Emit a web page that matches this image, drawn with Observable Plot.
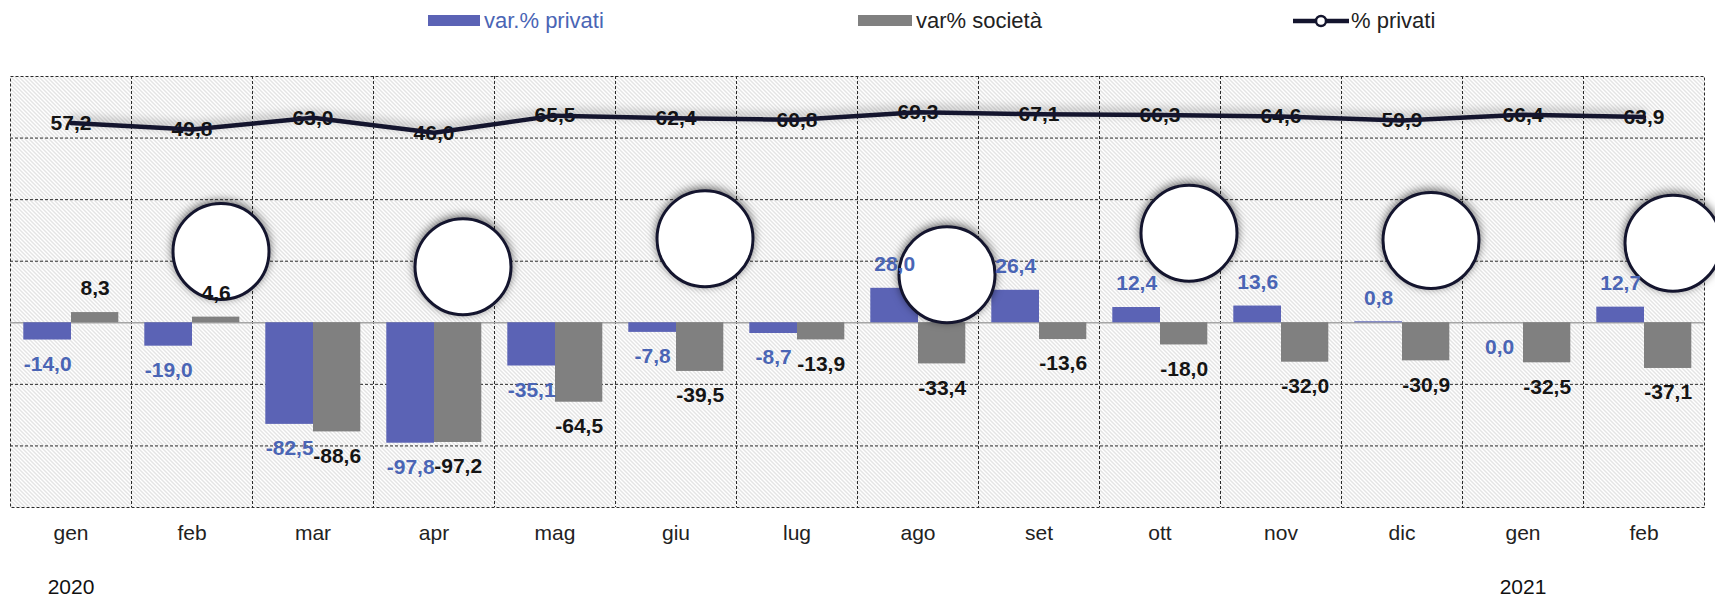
<!DOCTYPE html>
<html><head><meta charset="utf-8">
<script src="https://cdn.jsdelivr.net/npm/d3@7"></script>
<script src="https://cdn.jsdelivr.net/npm/@observablehq/plot@0.6"></script>
<style>
body{margin:0;background:#fff;font-family:"Liberation Sans",Arial,sans-serif;}
#wrap{position:relative;width:1715px;}
#legend{position:relative;height:50px;width:1715px;}
.sw{position:absolute;top:15px;height:11px;}
.lt{position:absolute;top:9px;font-size:22px;line-height:24px;white-space:nowrap;}
</style></head><body>
<div id="wrap">
<div id="legend"></div>
<div id="chart"></div>
</div>
<script>
// ---- data ----
const months = ["gen","feb","mar","apr","mag","giu","lug","ago","set","ott","nov","dic","gen","feb"];
const yearIdx = [0, 12];
const yearLabels = ["2020", "2021"];
const privati = [-14.0,-19.0,-82.5,-97.8,-35.1,-7.8,-8.7,28.0,26.4,12.4,13.6,0.8,0.0,12.7];
const societa = [8.3,4.6,-88.6,-97.2,-64.5,-39.5,-13.9,-33.4,-13.6,-18.0,-32.0,-30.9,-32.5,-37.1];
const quotaPrivati = [57.2,49.8,63.0,46.0,65.5,62.4,60.8,69.3,67.1,66.3,64.6,59.9,66.4,63.9];
const bubbleIdx = [1,3,5,7,9,11,13];
const bubbleVal = [57.9,45.6,68.3,39.1,72.8,66.9,64.6];
const yDomain = [-150, 200];
const y2Domain = [-380, 110];
const gridValues = [-100,-50,50,100,150];
const seriesNames = ["var.% privati", "var% società", "% privati"];

// ---- colours ----
const blue = "#5B63B5", blueText = "#4A65B5", grey = "#808080", navy = "#14152e", dark = "#151515";

// ---- legend ----
const lg = document.getElementById("legend");
lg.innerHTML = `
<div class="sw" style="left:428px;width:52px;background:${blue}"></div>
<div class="lt" style="left:484px;color:${blueText}">${seriesNames[0]}</div>
<div class="sw" style="left:858px;width:54px;background:${grey}"></div>
<div class="lt" style="left:916px;color:#222">${seriesNames[1]}</div>
<svg style="position:absolute;left:1293px;top:10px" width="56" height="22">
 <line x1="0" y1="11" x2="56" y2="11" stroke="${navy}" stroke-width="4.5" stroke-linecap="round"/>
 <circle cx="28" cy="11" r="5" fill="#fff" stroke="${navy}" stroke-width="2.5"/>
</svg>
<div class="lt" style="left:1351px;color:#222">${seriesNames[2]}</div>`;

// ---- chart ----
const keys = months.map((m, i) => String(i));
const y2 = d3.scaleLinear().domain(y2Domain).range(yDomain);
const fmt = v => v.toFixed(1).replace(".", ",");
const rows = months.map((m, i) => ({key: keys[i], month: m, p: privati[i], s: societa[i], q: quotaPrivati[i], qy: y2(quotaPrivati[i])}));
const bubbles = bubbleIdx.map((k, j) => ({key: String(k), v: bubbleVal[j]}));
const years = yearIdx.map((k, j) => ({key: String(k), label: yearLabels[j]}));

const W = 1715, H = 549;
const bw = (W - 10 - 11) / months.length;
const labelFont = {fontWeight: "bold", fontSize: 21};

const plot = Plot.plot({
  width: W, height: H,
  marginLeft: 10, marginRight: 11, marginTop: 26, marginBottom: 92,
  x: {type: "band", domain: keys, padding: 0, axis: null},
  y: {domain: yDomain, axis: null},
  style: {fontFamily: "Liberation Sans, Arial, sans-serif", background: "transparent", overflow: "visible"},
  marks: [
    Plot.frame({fill: "url(#hatch)", stroke: "none"}),
    Plot.ruleY(gridValues, {stroke: "#2a2a2a", strokeWidth: 1, strokeDasharray: "3,2"}),
    Plot.ruleX(keys.slice(1), {x: d => d, dx: -bw / 2, stroke: "#2a2a2a", strokeWidth: 1, strokeDasharray: "3,2"}),
    Plot.frame({stroke: "#2a2a2a", strokeWidth: 1, strokeDasharray: "3,2"}),
    Plot.ruleY([0], {stroke: "#a6a6a6", strokeWidth: 1.5}),
    Plot.barY(rows, {x: "key", y: "p", fill: blue, insetLeft: 13.3, insetRight: bw - 13.3 - 47.7}),
    Plot.barY(rows, {x: "key", y: "s", fill: grey, insetLeft: 61, insetRight: bw - 61 - 47.3}),
    Plot.dot(bubbles, {x: "key", y: "v", r: 48, dx: 29, fill: "#fff", stroke: navy, strokeWidth: 3}),
    Plot.text(rows.filter(d => d.p > 0), {x: "key", y: "p", text: d => fmt(d.p), dx: -bw / 2 + 37.2, dy: -24, fill: blueText, ...labelFont}),
    Plot.text(rows.filter(d => d.p <= 0), {x: "key", y: "p", text: d => fmt(d.p), dx: -bw / 2 + 37.2, dy: 24, fill: blueText, ...labelFont}),
    Plot.text(rows.filter(d => d.s > 0), {x: "key", y: "s", text: d => fmt(d.s), dx: -bw / 2 + 84.7, dy: -24, fill: dark, ...labelFont}),
    Plot.text(rows.filter(d => d.s <= 0), {x: "key", y: "s", text: d => fmt(d.s), dx: -bw / 2 + 84.7, dy: 24, fill: dark, ...labelFont}),
    Plot.text(rows, {x: "key", y: "qy", text: d => fmt(d.q), fill: dark, ...labelFont}),
    Plot.line(rows, {x: "key", y: "qy", stroke: navy, strokeWidth: 4.5}),
    Plot.text(rows, {x: "key", text: "month", frameAnchor: "bottom", dy: 32, fontSize: 21, fill: "#222"}),
    Plot.text(years, {x: "key", text: "label", frameAnchor: "bottom", dy: 86, fontSize: 21, fill: "#111"})
  ]
});

const svg = d3.select(plot);
const defs = svg.insert("defs", ":first-child");
const pat = defs.append("pattern").attr("id", "hatch").attr("patternUnits", "userSpaceOnUse").attr("width", 4).attr("height", 4);
pat.append("rect").attr("width", 4).attr("height", 4).attr("fill", "#fff");
pat.append("path").attr("d", "M-1,-1L5,5M-1,3L1,5M3,-1L5,1").attr("stroke", "#c2c2c2").attr("stroke-width", 0.9);
svg.selectAll("g[aria-label=dot]").style("filter", "drop-shadow(0px -2px 4px rgba(0,0,0,0.55))");
svg.selectAll("g[aria-label=line]").style("filter", "drop-shadow(0px -3px 5px rgba(0,0,0,0.35))");
document.getElementById("chart").appendChild(plot);
</script>
</body></html>
